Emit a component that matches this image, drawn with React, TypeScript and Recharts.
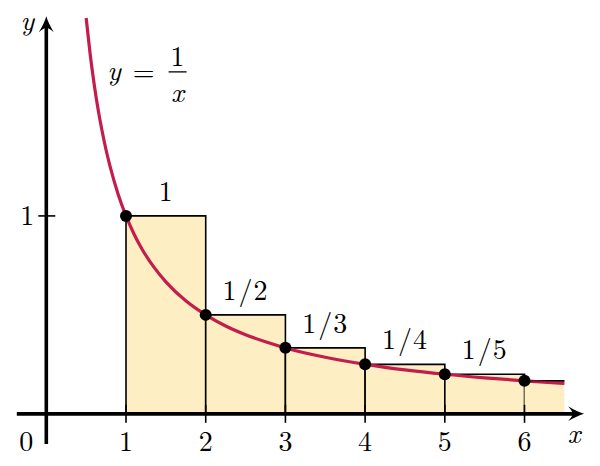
import React from 'react';
import {
  ComposedChart,
  XAxis,
  YAxis,
  Line,
  Scatter,
  ReferenceArea,
  ReferenceLine,
  ReferenceDot,
} from 'recharts';

// ---- data ----
const curveX = [0.5, 0.55, 0.6, 0.65, 0.7, 0.75, 0.8, 0.9, 1, 1.1, 1.2, 1.35, 1.5, 1.75, 2, 2.25, 2.5, 2.75, 3, 3.5, 4, 4.5, 5, 5.5, 6, 6.5];
const curveY = [2, 1.818, 1.667, 1.538, 1.429, 1.333, 1.25, 1.111, 1, 0.909, 0.833, 0.741, 0.667, 0.571, 0.5, 0.444, 0.4, 0.364, 0.333, 0.286, 0.25, 0.222, 0.2, 0.182, 0.167, 0.154];

const rectStarts = [1, 2, 3, 4, 5];
const rectEnds = [2, 3, 4, 5, 6];
const rectHeights = [1, 0.5, 0.3333, 0.25, 0.2];
const rectLabels = ['1', '1/2', '1/3', '1/4', '1/5'];

const tailStart = 6;
const tailEnd = 6.5;
const tailHeight = 0.1667;

const dotX = [1, 2, 3, 4, 5, 6];
const dotY = [1, 0.5, 0.3333, 0.25, 0.2, 0.1667];

const xTicks = [1, 2, 3, 4, 5, 6];
const yTicks = [1];

const X_DOMAIN: [number, number] = [-0.581, 6.947];
const Y_DOMAIN: [number, number] = [-0.2636, 2.091];

const X_AXIS_RANGE = [-0.37, 6.62];
const Y_AXIS_RANGE = [-0.152, 1.96];
const X_TIP = 6.747;
const Y_TIP = 2.009;

const formulaAnchor = { x: 0.75, y: 1.7 };

// ---- styles ----
const FONT = '"Latin Modern Roman"';
const CURVE = '#c21d4d';
const FILL = '#fdefc3';
const FS = 28;
const TXT: React.CSSProperties = { fontFamily: FONT, fontSize: FS, fill: '#000' };
const TXT_I: React.CSSProperties = { ...TXT, fontStyle: 'italic' };

const curveData = curveX.map((x, i) => ({ x, y: curveY[i] }));
const dotData = dotX.map((x, i) => ({ x, y: dotY[i] }));

const arrowPath = (cx: number, cy: number) =>
  `M${cx},${cy} Q${cx - 7},${cy - 2} ${cx - 16},${cy - 7.5} Q${cx - 11.5},${cy - 2.5} ${cx - 11.5},${cy} Q${cx - 11.5},${cy + 2.5} ${cx - 16},${cy + 7.5} Q${cx - 7},${cy + 2} ${cx},${cy} Z`;

const XArrow = (p: any) => (
  <g>
    <path d={arrowPath(p.cx, p.cy)} fill="#000" />
    <text x={p.cx - 10} y={p.cy + 29} textAnchor="middle" style={TXT_I}>x</text>
  </g>
);

const YArrow = (p: any) => (
  <g>
    <path d={arrowPath(p.cx, p.cy)} fill="#000" transform={`rotate(-90 ${p.cx} ${p.cy})`} />
    <text x={p.cx - 19} y={p.cy + 14} textAnchor="middle" style={TXT_I}>y</text>
  </g>
);

const makeXTick = (label: string) => (p: any) => (
  <g>
    <line x1={p.cx} y1={p.cy - 9} x2={p.cx} y2={p.cy + 9} stroke="#000" strokeWidth={1.6} />
    <text x={p.cx} y={p.cy + 37} textAnchor="middle" style={TXT}>{label}</text>
  </g>
);

const makeYTick = (label: string) => (p: any) => (
  <g>
    <line x1={p.cx - 8} y1={p.cy} x2={p.cx + 9} y2={p.cy} stroke="#000" strokeWidth={1.6} />
    <text x={p.cx - 19} y={p.cy + 9} textAnchor="middle" style={TXT}>{label}</text>
  </g>
);

const OriginLabel = (p: any) => (
  <text x={p.cx - 20} y={p.cy + 37} textAnchor="middle" style={TXT}>0</text>
);

const makeRectLabel = (label: string) => (p: any) => {
  const parts = label.split('/');
  const y = p.cy - 15;
  if (parts.length === 1) {
    return (
      <text x={p.cx} y={y} textAnchor="middle" style={TXT}>{label}</text>
    );
  }
  return (
    <text y={y} textAnchor="middle" style={TXT}>
      <tspan x={p.cx - 16}>{parts[0]}</tspan>
      <tspan x={p.cx}>/</tspan>
      <tspan x={p.cx + 15}>{parts[1]}</tspan>
    </text>
  );
};

const Formula = (p: any) => (
  <g>
    <text x={p.cx + 8} y={p.cy + 3} textAnchor="middle" style={TXT_I}>y</text>
    <text x={p.cx + 37.5} y={p.cy + 3.5} textAnchor="middle" style={TXT}>=</text>
    <text x={p.cx + 71.5} y={p.cy - 11} textAnchor="middle" style={TXT}>1</text>
    <line x1={p.cx + 62.5} y1={p.cy - 5.5} x2={p.cx + 80.5} y2={p.cy - 5.5} stroke="#000" strokeWidth={1.3} />
    <text x={p.cx + 71.5} y={p.cy + 25} textAnchor="middle" style={TXT_I}>x</text>
  </g>
);

const DotShape = (p: any) => <circle cx={p.cx} cy={p.cy} r={6} fill="#000" />;

export default function App() {
  return (
    <div style={{ position: 'absolute', left: 0, top: 0, width: 600, height: 466, background: '#fff' }}>
      <ComposedChart width={600} height={466} margin={{ top: 0, right: 0, bottom: 0, left: 0 }}>
        <XAxis type="number" dataKey="x" domain={X_DOMAIN} allowDataOverflow hide />
        <YAxis type="number" dataKey="y" domain={Y_DOMAIN} allowDataOverflow hide />

        {rectStarts.map((s, i) => (
          <ReferenceArea
            key={`r${i}`}
            x1={s}
            x2={rectEnds[i]}
            y1={0}
            y2={rectHeights[i]}
            fill={FILL}
            fillOpacity={1}
            stroke="#000"
            strokeWidth={1.6}
            zIndex={10}
          />
        ))}
        <ReferenceArea x1={tailStart} x2={tailEnd} y1={0} y2={tailHeight} fill={FILL} fillOpacity={1} stroke="none" zIndex={10} />
        <ReferenceLine
          segment={[{ x: tailStart, y: tailHeight }, { x: tailEnd, y: tailHeight }]}
          stroke="#000"
          strokeWidth={1.6}
          zIndex={20}
        />

        <Line
          data={curveData}
          dataKey="y"
          type="monotone"
          stroke={CURVE}
          strokeWidth={3.2}
          dot={false}
          activeDot={false}
          isAnimationActive={false}
          zIndex={400}
        />

        <ReferenceLine
          segment={[{ x: tailStart, y: tailHeight }, { x: tailEnd, y: tailHeight }]}
          stroke="#000"
          strokeWidth={1.4}
          strokeOpacity={0.6}
          zIndex={450}
        />

        <Scatter data={dotData} dataKey="y" shape={DotShape} isAnimationActive={false} zIndex={600} />

        <ReferenceLine
          segment={[{ x: X_AXIS_RANGE[0], y: 0 }, { x: X_AXIS_RANGE[1], y: 0 }]}
          stroke="#000"
          strokeWidth={3.6}
          zIndex={700}
        />
        <ReferenceLine
          segment={[{ x: 0, y: Y_AXIS_RANGE[0] }, { x: 0, y: Y_AXIS_RANGE[1] }]}
          stroke="#000"
          strokeWidth={3.6}
          zIndex={700}
        />
        <ReferenceDot x={X_TIP} y={0} shape={XArrow} zIndex={710} />
        <ReferenceDot x={0} y={Y_TIP} shape={YArrow} zIndex={710} />

        {xTicks.map((t) => (
          <ReferenceDot key={`xt${t}`} x={t} y={0} shape={makeXTick(String(t))} zIndex={720} />
        ))}
        {yTicks.map((t) => (
          <ReferenceDot key={`yt${t}`} x={0} y={t} shape={makeYTick(String(t))} zIndex={720} />
        ))}
        <ReferenceDot x={0} y={0} shape={OriginLabel} zIndex={720} />

        {rectStarts.map((s, i) => (
          <ReferenceDot
            key={`l${i}`}
            x={(s + rectEnds[i]) / 2}
            y={rectHeights[i]}
            shape={makeRectLabel(rectLabels[i])}
            zIndex={730}
          />
        ))}

        <ReferenceDot x={formulaAnchor.x} y={formulaAnchor.y} shape={Formula} zIndex={730} />
      </ComposedChart>
    </div>
  );
}
